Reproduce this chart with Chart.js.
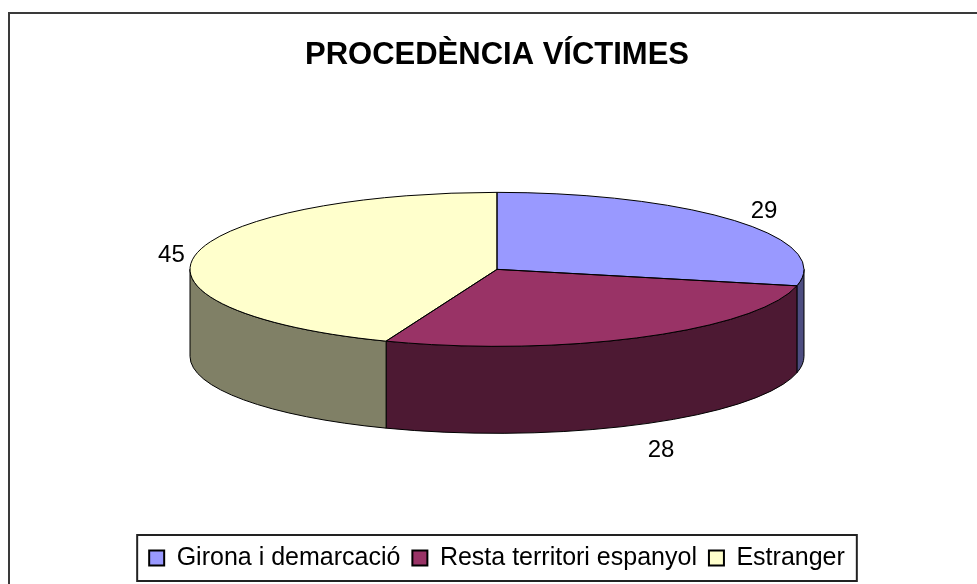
<!DOCTYPE html>
<html>
<head>
<meta charset="utf-8">
<title>Procedència víctimes</title>
<script src="https://cdn.jsdelivr.net/npm/chart.js@4/dist/chart.umd.min.js"></script>
<style>
  html, body { margin: 0; padding: 0; background: #fff; }
  #wrap { width: 977px; height: 584px; position: relative; }
</style>
</head>
<body>
<div id="wrap"><canvas id="chart"></canvas></div>
<script>
// chart data
const categories = ['Girona i demarcació', 'Resta territori espanyol', 'Estranger'];
const victims = [29, 28, 45];
const titleText = 'PROCEDÈNCIA VÍCTIMES';

// colours: top faces and the darker side walls
const topColors = ['#9999FF', '#993366', '#FFFFCC'];
const sideColors = ['#4D4D80', '#4D1933', '#808066'];

// look of the fake 3d pie
const RX = 307;      // half width of the ellipse
const RY = 77;       // half height of the ellipse
const DEPTH = 87;    // thickness of the pie
const LABEL_GAP_X = 16;
const LABEL_GAP_Y = 14;
const FONT = "'Liberation Sans', Arial, sans-serif";

const pie3d = {
  id: 'pie3d',
  beforeDraw(chart) {
    const ctx = chart.ctx;
    ctx.save();
    ctx.fillStyle = '#fff';
    ctx.fillRect(0, 0, chart.width, chart.height);
    // outer frame (runs off the right and bottom like the original)
    ctx.strokeStyle = '#3a3a3a';
    ctx.lineWidth = 2;
    ctx.strokeRect(9, 13, chart.width + 20, chart.height + 20);
    ctx.restore();
  },
  beforeDatasetsDraw(chart) {
    const ctx = chart.ctx;
    const arcs = chart.getDatasetMeta(0).data;
    const r = arcs[0].outerRadius;
    const cx = arcs[0].x;
    const cy = arcs[0].y - DEPTH / 2;

    // side walls, only the front half is visible
    ctx.save();
    ctx.strokeStyle = '#000';
    ctx.lineWidth = 1;
    arcs.forEach((arc, i) => {
      const a1 = Math.max(arc.startAngle, 0);
      const a2 = Math.min(arc.endAngle, Math.PI);
      if (a2 <= a1) return;
      ctx.beginPath();
      ctx.ellipse(cx, cy, RX, RY, 0, a1, a2, false);
      ctx.ellipse(cx, cy + DEPTH, RX, RY, 0, a2, a1, true);
      ctx.closePath();
      ctx.fillStyle = sideColors[i];
      ctx.fill();
      ctx.stroke();
    });
    ctx.restore();

    // squash the library's pie into the top ellipse
    ctx.save();
    ctx.translate(cx, cy);
    ctx.scale(RX / r, RY / r);
    ctx.translate(-arcs[0].x, -arcs[0].y);
  },
  afterDatasetsDraw(chart) {
    const ctx = chart.ctx;
    ctx.restore();
    const arcs = chart.getDatasetMeta(0).data;
    const cx = arcs[0].x;
    const cy = arcs[0].y - DEPTH / 2;

    ctx.save();
    ctx.strokeStyle = '#000';
    ctx.lineWidth = 1;
    arcs.forEach(arc => {
      ctx.beginPath();
      ctx.moveTo(cx, cy);
      ctx.ellipse(cx, cy, RX, RY, 0, arc.startAngle, arc.endAngle, false);
      ctx.closePath();
      ctx.stroke();
    });

    // value labels outside the slices
    ctx.fillStyle = '#000';
    ctx.font = '24px ' + FONT;
    ctx.textAlign = 'center';
    ctx.textBaseline = 'middle';
    arcs.forEach((arc, i) => {
      const txt = String(victims[i]);
      const w = ctx.measureText(txt).width;
      const m = (arc.startAngle + arc.endAngle) / 2;
      const c = Math.cos(m), s = Math.sin(m);
      const x = cx + (RX + LABEL_GAP_X) * c + c * w / 2 + 5;
      const y = cy + (RY + LABEL_GAP_Y) * s + s * 10 + (s > 0 ? DEPTH : 0) + 5;
      ctx.fillText(txt, x, y);
    });
    ctx.restore();
  },
  afterDraw(chart) {
    // box round the legend
    const boxes = chart.legend.legendHitBoxes;
    if (!boxes || !boxes.length) return;
    const first = boxes[0];
    const last = boxes[boxes.length - 1];
    const ctx = chart.ctx;
    ctx.save();
    ctx.strokeStyle = '#222';
    ctx.lineWidth = 2;
    ctx.strokeRect(first.left - 12, first.top - 10.5,
      last.left + last.width - first.left + 24, first.height + 21);
    ctx.restore();
  }
};

const chart = new Chart(document.getElementById('chart'), {
  type: 'pie',
  data: {
    labels: categories,
    datasets: [{
      data: victims,
      backgroundColor: topColors,
      borderWidth: 0
    }]
  },
  options: {
    responsive: true,
    maintainAspectRatio: false,
    animation: false,
    events: [],
    layout: {
      padding: { top: 37, bottom: 3.5, left: 17, right: 0 }
    },
    plugins: {
      title: {
        display: true,
        text: titleText,
        color: '#000',
        font: { family: FONT, size: 31, weight: 'bold' },
        padding: { top: 0, bottom: 18 }
      },
      legend: {
        position: 'bottom',
        labels: {
          color: '#000',
          font: { family: FONT, size: 25 },
          boxWidth: 15,
          boxHeight: 15,
          padding: 12,
          generateLabels(chart) {
            const items = Chart.overrides.pie.plugins.legend.labels.generateLabels(chart);
            items.forEach(it => {
              it.strokeStyle = '#000';
              it.lineWidth = 2;
            });
            return items;
          }
        }
      },
      tooltip: { enabled: false }
    }
  },
  plugins: [pie3d]
});
</script>
</body>
</html>
